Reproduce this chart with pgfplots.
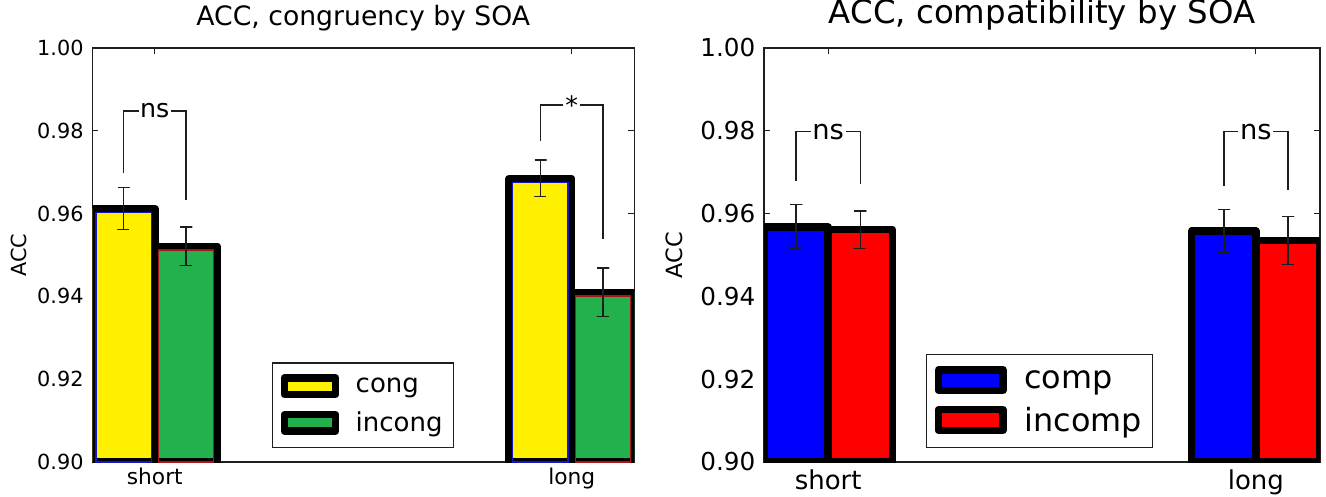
\documentclass[border=0pt]{standalone}
\usepackage{fontspec}
\setmainfont{DejaVu Sans}
\usepackage{pgfplots}
\pgfplotsset{compat=1.18}
\definecolor{cyel}{RGB}{255,240,0}
\definecolor{cgrn}{RGB}{34,177,76}
\definecolor{cblu}{RGB}{0,0,255}
\definecolor{cred}{RGB}{255,0,0}
\definecolor{ink}{RGB}{30,30,30}
\definecolor{edgeblue}{RGB}{20,20,200}
\definecolor{edgered}{RGB}{170,20,20}

\pgfplotsset{
 myaxis/.style={
  scale only axis, anchor=south west,
  xmin=-0.15, xmax=1.15, ymin=0.9, ymax=1.0,
  xtick={0,1}, xticklabels={short,long},
  ytick={0.90,0.92,0.94,0.96,0.98,1.00},
  /pgf/number format/.cd, fixed, fixed zerofill, precision=2, assume math mode=true, /pgfplots/.cd,
  tick align=inside, tick pos=both, major tick length=4.5pt,
  tick style={ink, line width=0.9pt},
  axis line style={ink, line width=1pt},
  ylabel={ACC},
  legend cell align=left,
 },
 mybar/.style={ybar, bar width=0.15, draw=black, line width=5.6pt, line join=round},
 myerr/.style={ink, line width=1.1pt, line join=round, mark=none, forget plot},
 thinedge/.style={ybar, bar width=0.1321, fill=none, line width=0.8pt, forget plot},
 bracket/.style={ink, line width=1.1pt, forget plot, mark=none},
}

\begin{document}
\begin{tikzpicture}
\useasboundingbox (0,0) rectangle (994.5pt,372pt);
% ---------------- left panel ----------------
\begin{axis}[myaxis, at={(69.2pt,25.5pt)}, width=406.5pt, height=310.5pt,
 title={ACC, congruency by SOA},
 title style={font=\fontsize{20pt}{24pt}\selectfont, at={(0.5,1)}, anchor=base, yshift=11pt},
 yticklabel style={font=\fontsize{15.6pt}{18pt}\selectfont, xshift=-3pt},
 xticklabel style={font=\fontsize{16.3pt}{19pt}\selectfont, anchor=base, yshift=-16.7pt},
 ylabel style={font=\fontsize{15.6pt}{18pt}\selectfont, at={(axis description cs:-0.1356,0.5)}, anchor=center},
 legend image code/.code={\draw[#1] (0pt,-6.2pt) rectangle (38.5pt,6.2pt); \path[draw=none,fill=none] (-1pt,0pt) -- (51.5pt,0pt);},
 legend style={at={(0.3316,0.033)}, anchor=south west, draw=ink, line width=1pt, fill=white,
   font=\fontsize{19.5pt}{22pt}\selectfont, inner xsep=6pt, inner ysep=8.4pt, row sep=8.5pt},
]
\addplot[mybar, fill=cyel, bar shift=-0.075] coordinates {(0,0.9612) (1,0.9685)};
\addlegendentry{cong}
\addplot[mybar, fill=cgrn, bar shift=0.075] coordinates {(0,0.9521) (1,0.9410)};
\addlegendentry{incong}
\addplot[thinedge, draw=edgeblue, bar shift=-0.075] coordinates {(0,0.9603) (1,0.9676)};
\addplot[thinedge, draw=edgered, bar shift=0.075] coordinates {(0,0.9512) (1,0.9401)};
% error bars: mean 0.9612 +- 0.0051, 0.9521 +- 0.0047, 0.9685 +- 0.0044, 0.9410 +- 0.0059
\addplot[myerr] coordinates {(-0.0889,0.9663) (-0.0611,0.9663) (-0.075,0.9663) (-0.075,0.9561) (-0.0889,0.9561) (-0.0611,0.9561)};
\addplot[myerr] coordinates {(0.0611,0.9568) (0.0889,0.9568) (0.075,0.9568) (0.075,0.9474) (0.0611,0.9474) (0.0889,0.9474)};
\addplot[myerr] coordinates {(0.9111,0.9729) (0.9389,0.9729) (0.925,0.9729) (0.925,0.9641) (0.9111,0.9641) (0.9389,0.9641)};
\addplot[myerr] coordinates {(1.0611,0.9469) (1.0889,0.9469) (1.075,0.9469) (1.075,0.9351) (1.0611,0.9351) (1.0889,0.9351)};
\addplot[bracket] coordinates {(-0.075,0.9697) (-0.075,0.9848) (0.075,0.9848) (0.075,0.9633)};
\addplot[bracket] coordinates {(0.925,0.9775) (0.925,0.9862) (1.075,0.9862) (1.075,0.9538)};
\node[fill=white, inner sep=1.2pt, font=\fontsize{19pt}{22pt}\selectfont] at (axis cs:0,0.9848) {ns};
\node[fill=white, inner sep=1.5pt, font=\fontsize{19pt}{22pt}\selectfont] at (axis cs:1,0.9862) {*};
\end{axis}
% ---------------- right panel ----------------
\begin{axis}[myaxis, at={(573pt,25.5pt)}, width=417pt, height=310.5pt,
 title={ACC, compatibility by SOA},
 title style={font=\fontsize{24.3pt}{28pt}\selectfont, at={(0.5,1)}, anchor=base, yshift=12.2pt},
 yticklabel style={font=\fontsize{18.5pt}{21pt}\selectfont, xshift=-3pt},
 xticklabel style={font=\fontsize{19.5pt}{22pt}\selectfont, anchor=base, yshift=-20.3pt},
 ylabel style={font=\fontsize{16.8pt}{19pt}\selectfont, at={(axis description cs:-0.1606,0.5)}, anchor=center},
 legend image code/.code={\draw[#1] (0pt,-7.7pt) rectangle (48.4pt,7.7pt); \path[draw=none,fill=none] (-0.5pt,0pt) -- (62.5pt,0pt);},
 legend style={at={(0.2914,0.034)}, anchor=south west, draw=ink, line width=1pt, fill=white,
   font=\fontsize{23.9pt}{27pt}\selectfont, inner xsep=6pt, inner ysep=8.6pt, row sep=7.6pt},
]
\addplot[mybar, fill=cblu, bar shift=-0.075] coordinates {(0,0.9568) (1,0.9558)};
\addlegendentry{comp}
\addplot[mybar, fill=cred, bar shift=0.075] coordinates {(0,0.9561) (1,0.9535)};
\addlegendentry{incomp}
% error bars: mean 0.9568 +- 0.0054, 0.9561 +- 0.0045, 0.9558 +- 0.0052, 0.9535 +- 0.0058
\addplot[myerr] coordinates {(-0.0886,0.9622) (-0.0614,0.9622) (-0.075,0.9622) (-0.075,0.9514) (-0.0886,0.9514) (-0.0614,0.9514)};
\addplot[myerr] coordinates {(0.0614,0.9606) (0.0886,0.9606) (0.075,0.9606) (0.075,0.9516) (0.0614,0.9516) (0.0886,0.9516)};
\addplot[myerr] coordinates {(0.9114,0.9610) (0.9386,0.9610) (0.925,0.9610) (0.925,0.9506) (0.9114,0.9506) (0.9386,0.9506)};
\addplot[myerr] coordinates {(1.0614,0.9593) (1.0886,0.9593) (1.075,0.9593) (1.075,0.9477) (1.0614,0.9477) (1.0886,0.9477)};
\addplot[bracket] coordinates {(-0.075,0.9679) (-0.075,0.9798) (0.075,0.9798) (0.075,0.9671)};
\addplot[bracket] coordinates {(0.925,0.9667) (0.925,0.9798) (1.075,0.9798) (1.075,0.9657)};
\node[fill=white, inner sep=1.2pt, font=\fontsize{20.5pt}{24pt}\selectfont] at (axis cs:0,0.9798) {ns};
\node[fill=white, inner sep=1.2pt, font=\fontsize{20.5pt}{24pt}\selectfont] at (axis cs:1,0.9798) {ns};
\end{axis}
\end{tikzpicture}
\end{document}
